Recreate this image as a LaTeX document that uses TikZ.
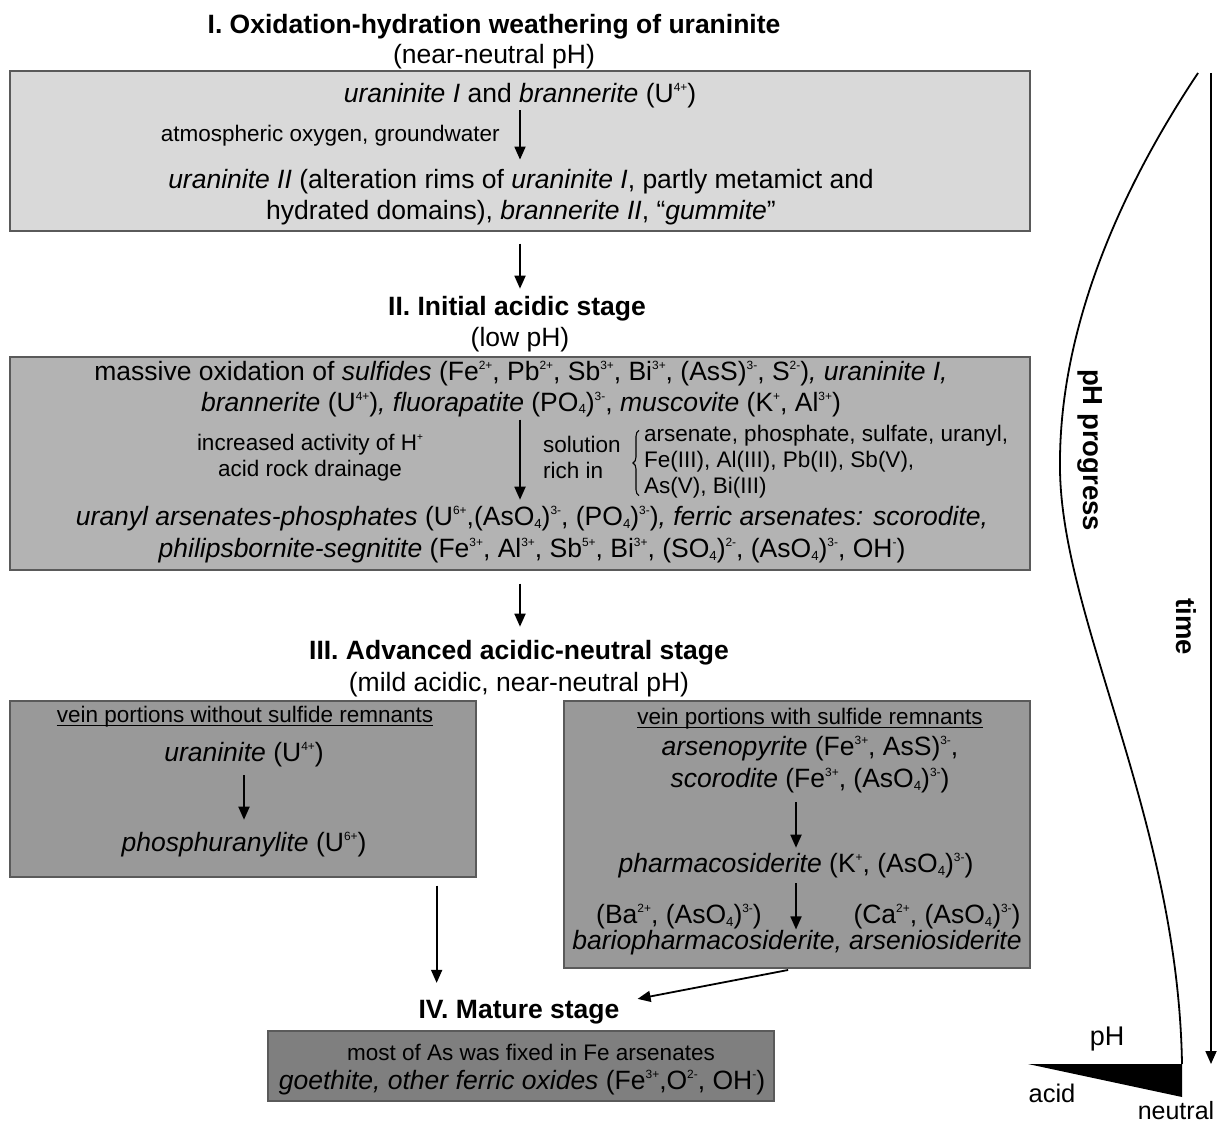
\documentclass[tikz,border=0pt]{standalone}
\usepackage{fontspec}
\setmainfont{Liberation Sans}
\usetikzlibrary{arrows.meta,decorations.pathreplacing}
\newcommand\supx[1]{\raisebox{0.42em}{\scalebox{0.45}{#1}}}
\newcommand\subx[1]{\raisebox{-0.1em}{\scalebox{0.5}{#1}}}
\definecolor{cA}{HTML}{D9D9D9}
\definecolor{cB}{HTML}{B3B3B3}
\definecolor{cC}{HTML}{999999}
\definecolor{cD}{HTML}{7F7F7F}
\definecolor{cE}{HTML}{5A5A5A}
\tikzset{
 txtmain/.style={font=\fontsize{26.5}{30.5}\selectfont, inner sep=0pt, align=center},
 txtsmall/.style={font=\fontsize{22.5}{26}\selectfont, inner sep=0pt, align=center},
 ttl/.style={font=\fontsize{26.5}{30}\selectfont\bfseries, inner sep=0pt},
 mybox/.style={draw=cE, line width=1.3pt, inner sep=0pt},
 arr/.style={line width=1.8pt, -{Triangle[length=13pt,width=11pt]}},
 uline/.style={line width=1pt},
}
\begin{document}
\begin{tikzpicture}[x=1pt,y=-1pt]
\useasboundingbox (0,0) rectangle (1218,1123);
% boxes
\node[mybox, fill=cA, minimum width=1020pt, minimum height=160pt] (box1) at (520,151) {};
\node[mybox, fill=cB, minimum width=1020pt, minimum height=213pt] (box2) at (520,463.5) {};
\node[mybox, fill=cC, minimum width=466pt, minimum height=176pt] (box3a) at (243,789) {};
\node[mybox, fill=cC, minimum width=466pt, minimum height=267pt] (box3b) at (797,834.5) {};
\node[mybox, fill=cD, minimum width=506pt, minimum height=70pt] (box4) at (521,1066) {};
% titles
\node[ttl] (t1) at (494,26.7) {I. Oxidation-hydration weathering of uraninite};
\node[txtmain] (t1s) at (494,57) {(near-neutral pH)};
\node[ttl] (t2) at (517,309) {II. Initial acidic stage};
\node[txtmain] (t2s) at (520,340) {(low pH)};
\node[ttl] (t3) at (519,653) {III. Advanced acidic-neutral stage};
\node[txtmain] (t3s) at (519,685) {(mild acidic, near-neutral pH)};
\node[ttl] (t4) at (519,1012) {IV. Mature stage};
% box 1
\node[txtmain] (b1a) at (520,96) {\textit{uraninite I} and \textit{brannerite} (U\supx{4+})};
\node[txtsmall, anchor=east] (b1l) at (500,136) {atmospheric oxygen, groundwater};
\node[txtmain] (b1b) at (521,197) {\textit{uraninite II} (alteration rims of \textit{uraninite I}, partly metamict and\\hydrated domains), \textit{brannerite II}, “\textit{gummite}”};
\draw[arr, shorten <=1.6pt, shorten >=9.6pt] (b1a.south) -- (b1a.south |- b1b.north);
\draw[arr, shorten <=12pt, shorten >=7.7pt] (box1.south) -- (box1.south |- t2.north);
% box 2
\node[txtmain] (b2a) at (521,389) {massive oxidation of \textit{sulfides} (Fe\supx{2+}, Pb\supx{2+}, Sb\supx{3+}, Bi\supx{3+}, (AsS)\supx{3-}, S\supx{2-})\textit{, uraninite I,}\\\textit{brannerite} (U\supx{4+})\textit{, fluorapatite} (PO\subx{4})\supx{3-}, \textit{muscovite} (K\supx{+}, Al\supx{3+})};
\node[txtsmall] (b2l) at (310,457.5) {increased activity of H\supx{+}\\acid rock drainage};
\node[txtsmall, align=left, anchor=west] (b2s) at (543,457.5) {solution\\rich in};
\node[txtsmall, align=left, anchor=west] (b2i) at (644,462) {arsenate, phosphate, sulfate, uranyl,\\Fe(III), Al(III), Pb(II), Sb(V),\\As(V), Bi(III)};
\node[txtmain, font=\fontsize{26.5}{32}\selectfont] (b2b) at (532,535) {\textit{uranyl arsenates-phosphates} (U\supx{6+},(AsO\subx{4})\supx{3-}, (PO\subx{4})\supx{3-})\textit{, ferric arsenates: scorodite,}\\\textit{philipsbornite-segnitite} (Fe\supx{3+}, Al\supx{3+}, Sb\supx{5+}, Bi\supx{3+}, (SO\subx{4})\supx{2-}, (AsO\subx{4})\supx{3-}, OH\supx{-})};
\draw[line width=1.1pt, decorate, decoration={brace, amplitude=6pt}] ([xshift=-5pt,yshift=3pt]b2i.south west) -- ([xshift=-5pt,yshift=-5pt]b2i.north west);
\draw[arr, shorten <=2.6pt, shorten >=6.6pt] ([xshift=-1pt]b2a.south) -- ([xshift=-1pt]b2a.south |- b2b.north);
\draw[arr, shorten <=13pt, shorten >=13.7pt] (box2.south) -- (box2.south |- t3.north);
% box 3a
\node[txtsmall] (v1) at (245,717) {vein portions without sulfide remnants};
\draw[uline] ([yshift=-2.5pt]v1.base west) -- ([yshift=-2.5pt]v1.base east);
\node[txtmain] (u1) at (244,755) {\textit{uraninite} (U\supx{4+})};
\node[txtmain] (p1) at (244,845) {\textit{phosphuranylite} (U\supx{6+})};
\draw[arr, shorten <=7.6pt, shorten >=12.6pt] (u1.south) -- (u1.south |- p1.north);
% box 3b
\node[txtsmall] (v2) at (810,719) {vein portions with sulfide remnants};
\draw[uline] ([yshift=-2.5pt]v2.base west) -- ([yshift=-2.5pt]v2.base east);
\node[txtmain, font=\fontsize{26.5}{32}\selectfont] (ar) at (810,765) {\textit{arsenopyrite} (Fe\supx{3+}, AsS)\supx{3-},\\\textit{scorodite} (Fe\supx{3+}, (AsO\subx{4})\supx{3-})};
\node[txtmain] (ph) at (796,866) {\textit{pharmacosiderite} (K\supx{+}, (AsO\subx{4})\supx{3-})};
\node[txtmain] (ba) at (679,917) {(Ba\supx{2+}, (AsO\subx{4})\supx{3-})};
\node[txtmain] (ca) at (937,917) {(Ca\supx{2+}, (AsO\subx{4})\supx{3-})};
\node[txtmain] (bar) at (797,943) {\textit{bariopharmacosiderite, arseniosiderite}};
\draw[arr, shorten <=8.6pt, shorten >=5.6pt] ([xshift=-14pt]ar.south) -- ([xshift=-14pt]ar.south |- ph.north);
\draw[arr, shorten <=4.6pt, shorten >=1pt] (ph.south) -- (ph.south |- bar.north);
% to stage IV
\draw[arr, shorten <=8pt, shorten >=17pt] ([xshift=-40pt]box3a.south east) -- ([xshift=-40pt]box3a.south east |- t4.north);
\draw[arr, shorten <=7pt] ([xshift=-2pt]box3b.south) -- ([xshift=18pt,yshift=1pt]t4.north east);
% box 4
\node[txtsmall] (b4a) at (531,1052) {most of As was fixed in Fe arsenates};
\node[txtmain] (b4b) at (522,1083) {\textit{goethite, other ferric oxides} (Fe\supx{3+},O\supx{2-}, OH\supx{-})};
% right side
\coordinate (tm0) at (1211,73);
\coordinate (tm1) at (1211,1064);
\draw[arr] (tm0) -- (tm1);
\node[ttl, font=\fontsize{27.5}{30}\selectfont\bfseries, rotate=-90] (tml) at (1186,627) {time};
\coordinate (cv0) at (1198,73);
\coordinate (cv1) at (1060,470);
\coordinate (cv2) at (1182,1064);
\draw[line width=1.8pt] (cv0) .. controls (1120,190) and (1058,330) .. (cv1) .. controls (1062,620) and (1178,820) .. (cv2);
\node[ttl, font=\fontsize{27.5}{30}\selectfont\bfseries, rotate=-90] (php) at (1090,450) {pH progress};
\fill (1028,1064) -- (cv2) -- (1182,1097) -- cycle;
\node[txtmain, font=\fontsize{27}{30}\selectfont] (phl) at (1107,1039) {pH};
\node[txtmain, font=\fontsize{25.5}{30}\selectfont] (acl) at (1052,1093) {acid};
\node[txtmain, font=\fontsize{25}{30}\selectfont] (nel) at (1176,1111) {neutral};
\end{tikzpicture}
\end{document}
